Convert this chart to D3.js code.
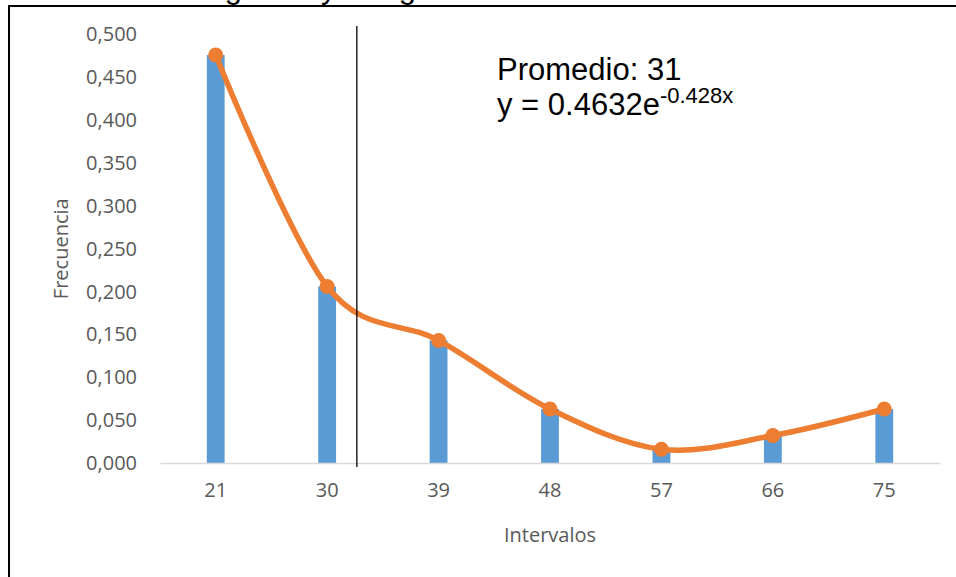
<!DOCTYPE html>
<html>
<head>
<meta charset="utf-8">
<script src="https://cdn.jsdelivr.net/npm/d3@7"></script>
<style>
  html, body { margin: 0; padding: 0; background: #fff; }
  svg { display: block; }
</style>
</head>
<body>
<svg id="chart" width="956" height="577"></svg>
<script>
// Class marks and relative frequencies
const intervalos = ["21", "30", "39", "48", "57", "66", "75"];
const frecuencias = [0.476, 0.206, 0.143, 0.063, 0.016, 0.032, 0.063];
const yTicks = [0, 0.05, 0.1, 0.15, 0.2, 0.25, 0.3, 0.35, 0.4, 0.45, 0.5];
const promedioLinea = 32.4;          // position of the vertical reference line (x units)
const tituloTexto = "Histograma y Polígono de frecuencias";
const promedioTexto = "Promedio: 31";
const ecuacionBase = "y = 0.4632e";
const ecuacionExp = "-0.428x";

const svg = d3.select("#chart");
const W = 956, H = 577;
const plot = { left: 160, right: 940, top: 34.5, bottom: 463 };

const x = d3.scaleBand().domain(intervalos).range([plot.left, plot.right]).paddingInner(0.84).paddingOuter(0.42);
const xc = d => x(d) + x.bandwidth() / 2;
const y = d3.scaleLinear().domain([0, 0.5]).range([plot.bottom, plot.top]);
// numeric x scale for the reference line
const xNum = d3.scaleLinear()
  .domain([+intervalos[0], +intervalos[intervalos.length - 1]])
  .range([xc(intervalos[0]), xc(intervalos[intervalos.length - 1])]);

const fmt = d => d3.format(".3f")(d).replace(".", ",");

// title (above the frame, mostly outside the page)
svg.append("text")
  .attr("x", 154).attr("y", -2)
  .attr("font-family", "Liberation Sans, Arial, sans-serif")
  .attr("font-size", 31).attr("fill", "#000")
  .text(tituloTexto);

// frame
svg.append("rect")
  .attr("x", 9).attr("y", 6).attr("width", W + 20).attr("height", H + 20)
  .attr("fill", "none").attr("stroke", "#000").attr("stroke-width", 2);

// y axis labels
const yAxis = d3.axisLeft(y).tickValues(yTicks).tickFormat(fmt).tickSize(0).tickPadding(23);
const gy = svg.append("g").attr("transform", `translate(${plot.left},0)`).call(yAxis);
gy.select(".domain").remove();
gy.selectAll("text")
  .attr("font-family", "Open Sans, sans-serif").attr("font-size", 20).attr("fill", "#595959");

// bars
svg.append("g").selectAll("rect").data(frecuencias).join("rect")
  .attr("x", (d, i) => x(intervalos[i]))
  .attr("width", x.bandwidth())
  .attr("y", d => y(d))
  .attr("height", d => y(0) - y(d))
  .attr("fill", "#5B9BD5");

// x axis
const xAxis = d3.axisBottom(x).tickSize(0).tickPadding(20);
const gx = svg.append("g").attr("transform", `translate(0,${plot.bottom})`).call(xAxis);
gx.select(".domain").attr("stroke", "#D9D9D9").attr("stroke-width", 1.5);
gx.selectAll("text")
  .attr("font-family", "Open Sans, sans-serif").attr("font-size", 20).attr("fill", "#595959");

// smoothed frequency polygon
const pts = frecuencias.map((d, i) => [xc(intervalos[i]), y(d)]);
svg.append("path")
  .attr("d", d3.line().curve(d3.curveCatmullRom.alpha(0))(pts))
  .attr("fill", "none").attr("stroke", "#ED7D31").attr("stroke-width", 5.5)
  .attr("stroke-linecap", "round");
svg.append("g").selectAll("circle").data(pts).join("circle")
  .attr("cx", d => d[0]).attr("cy", d => d[1]).attr("r", 7.5)
  .attr("fill", "#ED7D31");

// vertical reference line
svg.append("line")
  .attr("x1", xNum(promedioLinea)).attr("x2", xNum(promedioLinea))
  .attr("y1", 26).attr("y2", 467)
  .attr("stroke", "#000").attr("stroke-width", 1.3);

// annotation
const ann = svg.append("g")
  .attr("font-family", "Liberation Sans, Arial, sans-serif").attr("fill", "#000");
ann.append("text").attr("x", 497).attr("y", 80).attr("font-size", 31).text(promedioTexto);
const eq = ann.append("text").attr("x", 497).attr("y", 115).attr("font-size", 31);
eq.append("tspan").text(ecuacionBase);
eq.append("tspan").attr("font-size", 22).attr("dy", -12).text(ecuacionExp);

// axis titles
svg.append("text")
  .attr("transform", `translate(68,${(plot.top + plot.bottom) / 2}) rotate(-90)`)
  .attr("text-anchor", "middle")
  .attr("font-family", "Open Sans, sans-serif").attr("font-size", 20).attr("fill", "#595959")
  .text("Frecuencia");
svg.append("text")
  .attr("x", (plot.left + plot.right) / 2).attr("y", 542)
  .attr("text-anchor", "middle")
  .attr("font-family", "Open Sans, sans-serif").attr("font-size", 20).attr("fill", "#595959")
  .text("Intervalos");
</script>
</body>
</html>
